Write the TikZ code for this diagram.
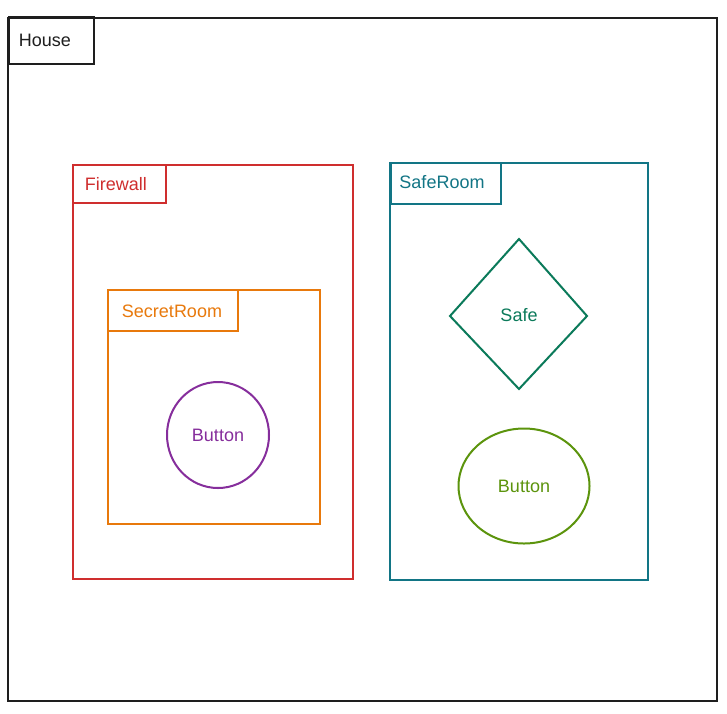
\documentclass[tikz,border=0pt]{standalone}
\usepackage{fontspec}
\setmainfont{Liberation Sans}
\usetikzlibrary{shapes.geometric}
\definecolor{houseink}{HTML}{1E1E1E}
\definecolor{fireink}{HTML}{CF2E2E}
\definecolor{secretink}{HTML}{E8790C}
\definecolor{purpleink}{HTML}{862E9C}
\definecolor{safeink}{HTML}{127585}
\definecolor{vaultink}{HTML}{0B7A5A}
\definecolor{greenink}{HTML}{5C940D}
\begin{document}
\begin{tikzpicture}[x=1pt,y=-1pt,
  edge/.style={line width=2pt},
  label/.style={font=\fontsize{18}{21}\selectfont}]
\useasboundingbox (0,0) rectangle (727,713);
\fill[white] (0,0) rectangle (727,713);

% outer container
\draw[houseink, edge] (8,18) rectangle (717,701);
\draw[houseink, edge] (9,17) rectangle (94,64);
\node[label, houseink] (house) at (45,40) {House};

% firewall zone
\draw[fireink, edge] (73,165) rectangle (353,579);
\draw[fireink, edge] (73,165) rectangle (166,203);
\node[label, fireink] (firewall) at (116,184) {Firewall};

% secret room inside firewall
\draw[secretink, edge] (108,290) rectangle (320,524);
\draw[secretink, edge] (108,290) rectangle (238,331);
\node[label, secretink] (secret) at (172,311) {SecretRoom};

\node[draw=purpleink, edge, ellipse, minimum width=102pt, minimum height=106pt,
      text=purpleink, label] (btn1) at (218,435) {Button};

% safe room zone
\draw[safeink, edge] (390,163) rectangle (648,580);
\draw[safeink, edge] (391,163) rectangle (501,204);
\node[label, safeink] (saferoom) at (442,182) {SafeRoom};

\draw[vaultink, edge] (519,239) -- (587,316) -- (519,389) -- (450,316) -- cycle;
\node[label, vaultink] (safe) at (519,315) {Safe};

\node[draw=greenink, edge, ellipse, minimum width=131pt, minimum height=115pt,
      text=greenink, label] (btn2) at (524,486) {Button};
\end{tikzpicture}
\end{document}
